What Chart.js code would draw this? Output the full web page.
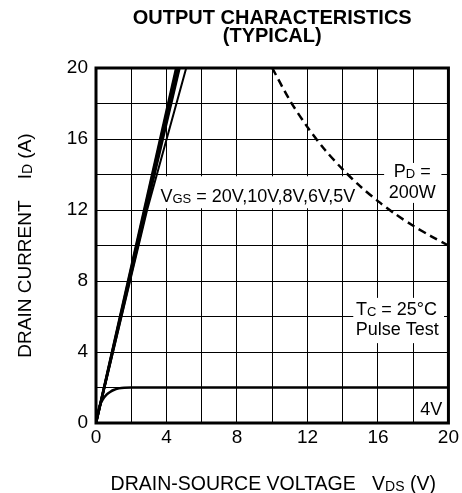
<!DOCTYPE html>
<html>
<head>
<meta charset="utf-8">
<script src="https://cdn.jsdelivr.net/npm/chart.js"></script>
<style>
  html, body { margin: 0; padding: 0; background: #fff; }
  #chart { display: block; }
</style>
</head>
<body>
<canvas id="chart" width="462" height="493"></canvas>
<script>
// drain-source voltage (V) / drain current (A)
const vds20V = [0, 4.55];
const id20V = [0, 20];
const vds10V = [0, 4.6];
const id10V = [0, 20];
const vds8V = [0, 4.66];
const id8V = [0, 20];
const vds6V = [0, 4.74];
const id6V = [0, 20];
const vds5V = [0, 2.9, 5.12];
const id5V = [0, 12, 20];
const vds4V = [0, 0.1, 0.2, 0.4, 0.6, 0.8, 1.0, 1.3, 1.6, 2.0, 20];
const id4V = [0, 0.55, 0.95, 1.35, 1.6, 1.75, 1.86, 1.95, 1.99, 2.0, 2.0];
// PD = 200W limit
const vdsPd = [10, 11, 12, 13, 14, 15, 16, 17, 18, 19, 20];
const idPd = [20, 18.18, 16.67, 15.38, 14.29, 13.33, 12.5, 11.76, 11.11, 10.53, 10];

const xTicks = [0, 4, 8, 12, 16, 20];
const yTicks = [0, 4, 8, 12, 16, 20];

const FONT = '"Liberation Sans", Arial, Helvetica, sans-serif';

function pts(xs, ys) {
  return xs.map((x, i) => ({ x: x, y: ys[i] }));
}

function line(xs, ys, width) {
  return {
    data: pts(xs, ys),
    borderColor: '#000',
    borderWidth: width,
    pointRadius: 0,
    fill: false,
  };
}

// draws text made of normal + smaller (subscript) parts
function richText(ctx, parts, x, y, align) {
  let total = 0;
  for (const p of parts) {
    ctx.font = (p.bold ? 'bold ' : '') + p.size + 'px ' + FONT;
    p.w = ctx.measureText(p.t).width;
    total += p.w;
  }
  let cx = x;
  if (align === 'center') cx = x - total / 2;
  if (align === 'right') cx = x - total;
  ctx.textAlign = 'left';
  ctx.textBaseline = 'alphabetic';
  for (const p of parts) {
    ctx.font = (p.bold ? 'bold ' : '') + p.size + 'px ' + FONT;
    ctx.fillText(p.t, cx, y + (p.dy || 0));
    cx += p.w;
  }
}

const labelsPlugin = {
  id: 'labels',
  beforeDatasetsDraw(chart) {
    const ctx = chart.ctx;
    const xs = chart.scales.x, ys = chart.scales.y;
    const box = (x0, x1, y0, y1) => {
      const l = xs.getPixelForValue(x0), r = xs.getPixelForValue(x1);
      const t = ys.getPixelForValue(y0), b = ys.getPixelForValue(y1);
      ctx.fillRect(l, t, r - l, b - t);
    };
    ctx.save();
    ctx.fillStyle = '#fff';
    box(3.5, 14.7, 13.9, 12.1);
    box(16.35, 19.6, 14.65, 12.4);
    box(14.6, 19.75, 7.05, 4.5);
    ctx.restore();
  },
  afterDatasetsDraw(chart) {
    const ctx = chart.ctx;
    const a = chart.chartArea;
    ctx.save();
    ctx.strokeStyle = '#000';
    ctx.lineWidth = 3;
    ctx.strokeRect(a.left, a.top, a.right - a.left, a.bottom - a.top);
    ctx.restore();
  },
  afterDraw(chart) {
    const ctx = chart.ctx;
    const a = chart.chartArea;
    const xs = chart.scales.x, ys = chart.scales.y;
    const px = v => xs.getPixelForValue(v);
    const py = v => ys.getPixelForValue(v);
    const mid = (a.left + a.right) / 2;
    ctx.save();
    ctx.fillStyle = '#000';

    // title
    richText(ctx, [{ t: 'OUTPUT CHARACTERISTICS', size: 20, bold: true }], mid, 24, 'center');
    richText(ctx, [{ t: '(TYPICAL)', size: 20, bold: true }], mid, 42, 'center');

    // in-plot notes
    richText(ctx, [
      { t: 'V', size: 18 },
      { t: 'GS', size: 13, dy: 1 },
      { t: ' = 20V,10V,8V,6V,5V', size: 18 },
    ], px(3.66), py(12.45), 'left');
    richText(ctx, [{ t: 'P', size: 18 }, { t: 'D', size: 13, dy: 1 }, { t: ' =', size: 18 }], px(17.95), py(13.86), 'center');
    richText(ctx, [{ t: '200W', size: 18 }], px(17.95), py(12.68), 'center');
    richText(ctx, [{ t: 'T', size: 18 }, { t: 'C', size: 13, dy: 1 }, { t: ' = 25°C', size: 18 }], px(17.05), py(6.08), 'center');
    richText(ctx, [{ t: 'Pulse Test', size: 18 }], px(17.1), py(4.95), 'center');
    richText(ctx, [{ t: '4V', size: 18 }], px(19.65), py(0.45), 'right');

    // x axis title
    richText(ctx, [
      { t: 'DRAIN-SOURCE VOLTAGE   V', size: 19.5 },
      { t: 'DS', size: 14, dy: 1 },
      { t: ' (V)', size: 19.5 },
    ], mid + 1, 490, 'center');

    // y axis title
    ctx.translate(31, (a.top + a.bottom) / 2);
    ctx.rotate(-Math.PI / 2);
    richText(ctx, [
      { t: 'DRAIN CURRENT    I', size: 19 },
      { t: 'D', size: 14, dy: 1 },
      { t: ' (A)', size: 19 },
    ], 0, 0, 'center');
    ctx.restore();
  },
};

const ctx = document.getElementById('chart').getContext('2d');

new Chart(ctx, {
  type: 'line',
  data: {
    datasets: [
      line(vds20V, id20V, 2.5),
      line(vds10V, id10V, 2.5),
      line(vds8V, id8V, 2.5),
      line(vds6V, id6V, 2.5),
      line(vds5V, id5V, 2),
      Object.assign(line(vds4V, id4V, 2.5), { cubicInterpolationMode: 'monotone' }),
      Object.assign(line(vdsPd, idPd, 2.5), { borderDash: [8, 5], tension: 0.3 }),
    ],
  },
  options: {
    responsive: false,
    animation: false,
    events: [],
    layout: { padding: { left: 0, right: 11, top: 68, bottom: 0 } },
    plugins: {
      legend: { display: false },
      title: { display: false },
      tooltip: { enabled: false },
    },
    scales: {
      x: {
        type: 'linear',
        min: 0,
        max: 20,
        afterFit: s => { s.height = 70; },
        afterBuildTicks: s => {
          s.ticks = [];
          for (let v = 0; v <= 20; v += 2) s.ticks.push({ value: v });
        },
        ticks: {
          color: '#000',
          font: { family: FONT, size: 19 },
          padding: 3,
          maxRotation: 0,
          autoSkip: false,
          callback: v => (xTicks.includes(v) ? String(v) : ''),
        },
        grid: { color: '#000', lineWidth: 1, drawTicks: false },
        border: { display: false },
      },
      y: {
        type: 'linear',
        min: 0,
        max: 20,
        afterFit: s => { s.width = 96; },
        afterBuildTicks: s => {
          s.ticks = [];
          for (let v = 0; v <= 20; v += 2) s.ticks.push({ value: v });
        },
        ticks: {
          color: '#000',
          font: { family: FONT, size: 19 },
          padding: 8,
          autoSkip: false,
          callback: v => (yTicks.includes(v) ? String(v) : ''),
        },
        grid: { color: '#000', lineWidth: 1, drawTicks: false },
        border: { display: false },
      },
    },
  },
  plugins: [labelsPlugin],
});
</script>
</body>
</html>
